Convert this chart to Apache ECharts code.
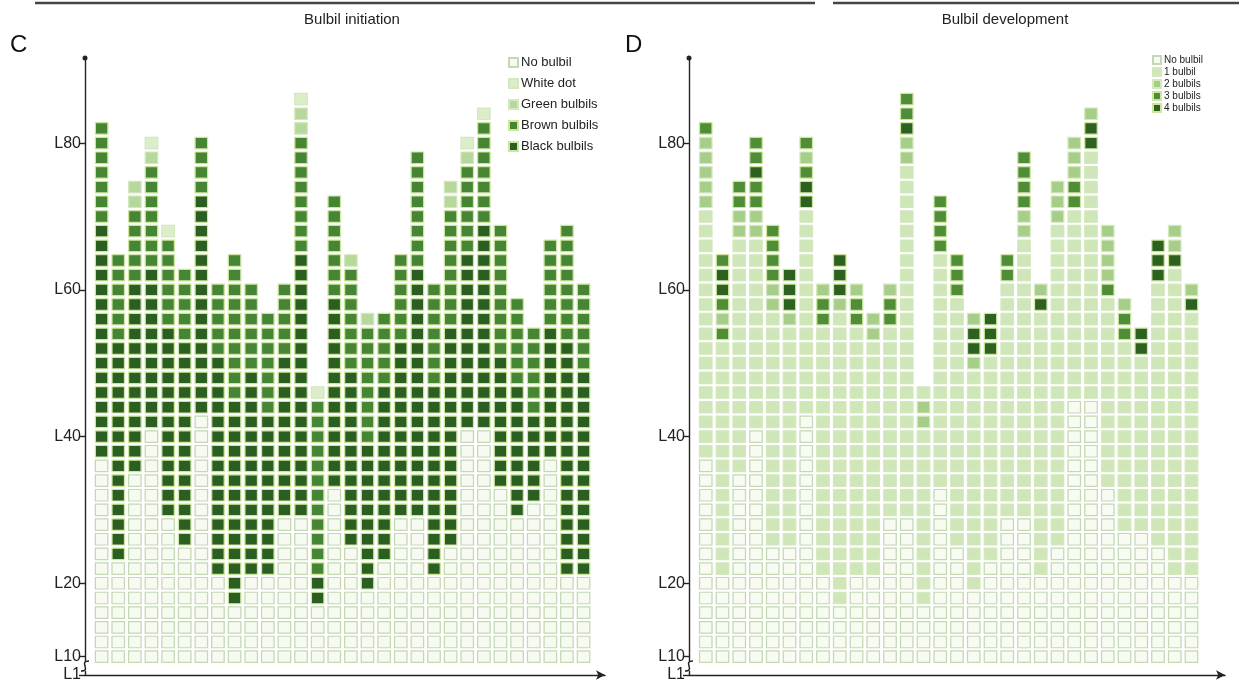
<!DOCTYPE html>
<html>
<head>
<meta charset="utf-8">
<script src="https://cdn.jsdelivr.net/npm/echarts@6/dist/echarts.min.js"></script>
<style>
  html, body { margin: 0; background: #fff; }
  #chart { width: 1239px; height: 684px; }
</style>
</head>
<body>
<div id="chart"></div>
<script>
// C: number of square cells (2 leaves each) per plant, stacked from the base upwards
const cNames = ['No bulbil', 'White dot', 'Green bulbils', 'Brown bulbils', 'Black bulbils'];
const cColors = ['#f6faf1', '#dcedcb', '#b7d89c', '#468533', '#2b5f21'];
const cNone  = [14, 7, 13, 16, 10, 8, 17, 6, 4, 6, 6, 10, 10, 4, 12, 8, 5, 7, 10, 10, 6, 8, 16, 16, 12, 10, 11, 14, 6, 6];
const cBlack = [16, 15, 13, 11, 13, 14, 15, 15, 14, 14, 11, 11, 18, 2, 13, 12, 10, 12, 12, 17, 13, 15, 12, 14, 9, 9, 6, 9, 16, 14];
const cBrown = [7, 6, 5, 7, 6, 5, 4, 5, 10, 6, 7, 5, 8, 12, 7, 7, 8, 5, 6, 8, 7, 8, 6, 7, 9, 6, 6, 6, 8, 6];
const cGreen = [0, 0, 2, 1, 0, 0, 0, 0, 0, 0, 0, 0, 2, 0, 0, 1, 1, 0, 0, 0, 0, 2, 1, 0, 0, 0, 0, 0, 0, 0];
const cWhite = [0, 0, 0, 1, 1, 0, 0, 0, 0, 0, 0, 0, 1, 1, 0, 0, 0, 0, 0, 0, 0, 0, 1, 1, 0, 0, 0, 0, 0, 0];

// D: same plants, runs from the base [category, cells]
const dNames = ['No bulbil', '1 bulbil', '2 bulbils', '3 bulbils', '4 bulbils'];
const dColors = ['#f7fbf2', '#cfe6b9', '#a6ce88', '#4f8d36', '#2c6120'];
const dRuns = [
  [[0, 14], [1, 17], [2, 5], [3, 1]],
  [[0, 6], [1, 16], [3, 1], [2, 1], [3, 1], [4, 2], [3, 1]],
  [[0, 13], [1, 16], [2, 2], [3, 2]],
  [[0, 16], [1, 13], [2, 2], [3, 2], [4, 1], [3, 2]],
  [[0, 8], [1, 16], [2, 2], [3, 4]],
  [[0, 8], [1, 15], [2, 1], [4, 3]],
  [[0, 17], [1, 14], [4, 2], [3, 1], [2, 1], [3, 1]],
  [[0, 6], [1, 17], [3, 2], [2, 1]],
  [[0, 4], [1, 20], [2, 1], [4, 3]],
  [[0, 6], [1, 17], [3, 2], [2, 1]],
  [[0, 6], [1, 16], [2, 2]],
  [[0, 10], [1, 13], [3, 2], [2, 1]],
  [[0, 10], [1, 24], [2, 2], [4, 1], [3, 2]],
  [[0, 4], [1, 12], [2, 2], [1, 1]],
  [[0, 12], [1, 16], [3, 4]],
  [[0, 8], [1, 17], [3, 3]],
  [[0, 5], [1, 15], [2, 1], [4, 2], [2, 1]],
  [[0, 7], [1, 14], [4, 3]],
  [[0, 10], [1, 16], [3, 2]],
  [[0, 10], [1, 19], [2, 2], [3, 4]],
  [[0, 6], [1, 18], [4, 1], [2, 1]],
  [[0, 8], [1, 22], [2, 3]],
  [[0, 18], [1, 13], [3, 2], [2, 3]],
  [[0, 18], [1, 17], [4, 2], [2, 1]],
  [[0, 12], [1, 13], [3, 1], [2, 4]],
  [[0, 9], [1, 13], [3, 2], [2, 1]],
  [[0, 9], [1, 12], [4, 2]],
  [[0, 8], [1, 18], [4, 3]],
  [[0, 6], [1, 21], [4, 1], [2, 2]],
  [[0, 6], [1, 18], [4, 1], [2, 1]]
];

const yTicks = [7.5, 10, 20, 40, 60, 80];
const yTickText = ['L1', 'L10', 'L20', 'L40', 'L60', 'L80'];

// leaf position of the k-th cell (1-based) in a column
const cellLeaf = k => 8 + 2 * k;

function cellsC() {
  const out = cNames.map(() => []);
  const stack = [[0, cNone], [4, cBlack], [3, cBrown], [2, cGreen], [1, cWhite]];
  for (let i = 0; i < cNone.length; i++) {
    let row = 0;
    stack.forEach(([cat, arr]) => {
      for (let k = 0; k < arr[i]; k++) {
        row++;
        out[cat].push([i + 1, cellLeaf(row)]);
      }
    });
  }
  return out;
}

function cellsD() {
  const out = dNames.map(() => []);
  dRuns.forEach((runs, i) => {
    let row = 0;
    runs.forEach(([cat, n]) => {
      for (let k = 0; k < n; k++) {
        row++;
        out[cat].push([i + 1, cellLeaf(row)]);
      }
    });
  });
  return out;
}

const font = 'Liberation Sans, Arial, sans-serif';

function yAxis(gridIndex) {
  return {
    type: 'value', gridIndex, min: 7.5, max: 91.6,
    splitLine: { show: false },
    axisLine: { show: true, symbol: ['none', 'circle'], symbolSize: [5, 5], lineStyle: { color: '#222', width: 1.4 } },
    axisTick: { show: true, length: 6, customValues: yTicks, lineStyle: { color: '#222', width: 1.4 } },
    axisLabel: {
      customValues: yTicks, margin: 4, fontSize: 16, color: '#222', fontFamily: font,
      formatter: v => yTickText[yTicks.indexOf(v)]
    }
  };
}

function xAxis(gridIndex, max) {
  return {
    type: 'value', gridIndex, min: 0, max,
    axisLine: { show: true, onZero: false, symbol: ['none', 'arrow'], symbolSize: [7, 9], lineStyle: { color: '#222', width: 1.4 } },
    axisTick: { show: false }, axisLabel: { show: false }, splitLine: { show: false }
  };
}

function cellSeries(names, colors, cells, axisIndex) {
  return names.map((name, j) => ({
    name, type: 'scatter', xAxisIndex: axisIndex, yAxisIndex: axisIndex,
    symbol: 'rect', symbolSize: [12.5, 11.5],
    itemStyle: {
      color: colors[j], opacity: 1,
      borderColor: j === 0 ? '#c3d8b3' : (j < 3 ? '#d3e8bd' : '#cde69f'),
      borderWidth: 1.2
    },
    data: cells[j]
  }));
}

function legend(names, left, top, size, gap, fontSize) {
  return {
    data: names, orient: 'vertical', left, top, icon: 'rect',
    itemWidth: size, itemHeight: size, itemGap: gap,
    textStyle: { fontSize, color: '#222', fontFamily: font, padding: [0, 0, 0, -2] },
    selectedMode: false
  };
}

const chart = echarts.init(document.getElementById('chart'));

const option = {
  animation: false,
  backgroundColor: '#fff',
  grid: [
    { left: 85, top: 58, width: 520, bottom: 9 },
    { left: 689, top: 58, width: 536, bottom: 9 }
  ],
  xAxis: [xAxis(0, 31.29), xAxis(1, 32)],
  yAxis: [yAxis(0), yAxis(1)],
  legend: [
    legend(cNames, 503, 51, 9, 8, 13),
    legend(dNames, 1147, 50, 8, 2, 10)
  ],
  series: [
    ...cellSeries(cNames, cColors, cellsC(), 0),
    ...cellSeries(dNames, dColors, cellsD(), 1)
  ],
  graphic: [
    { type: 'line', shape: { x1: 35, y1: 3, x2: 815, y2: 3 }, style: { stroke: '#444', lineWidth: 2.5 } },
    { type: 'line', shape: { x1: 833, y1: 3, x2: 1239, y2: 3 }, style: { stroke: '#444', lineWidth: 2.5 } },
    { type: 'text', x: 352, y: 20, style: { text: 'Bulbil initiation', fill: '#222', font: '15px ' + font, align: 'center', verticalAlign: 'middle' } },
    { type: 'text', x: 1005, y: 20, style: { text: 'Bulbil development', fill: '#222', font: '15px ' + font, align: 'center', verticalAlign: 'middle' } },
    { type: 'text', x: 10, y: 33, style: { text: 'C', fill: '#111', font: '24px ' + font } },
    { type: 'text', x: 625, y: 33, style: { text: 'D', fill: '#111', font: '24px ' + font } },
    // axis break marks
    { type: 'rect', shape: { x: 82, y: 661, width: 6, height: 10 }, style: { fill: '#fff' }, z: 100 },
    { type: 'bezierCurve', shape: { x1: 81, y1: 671, x2: 89, y2: 661, cpx1: 92, cpy1: 671, cpx2: 78, cpy2: 661 }, style: { stroke: '#222', lineWidth: 1.5, fill: null }, z: 101 },
    { type: 'rect', shape: { x: 686, y: 661, width: 6, height: 10 }, style: { fill: '#fff' }, z: 100 },
    { type: 'bezierCurve', shape: { x1: 685, y1: 671, x2: 693, y2: 661, cpx1: 696, cpy1: 671, cpx2: 682, cpy2: 661 }, style: { stroke: '#222', lineWidth: 1.5, fill: null }, z: 101 }
  ]
};

chart.setOption(option);
</script>
</body>
</html>
